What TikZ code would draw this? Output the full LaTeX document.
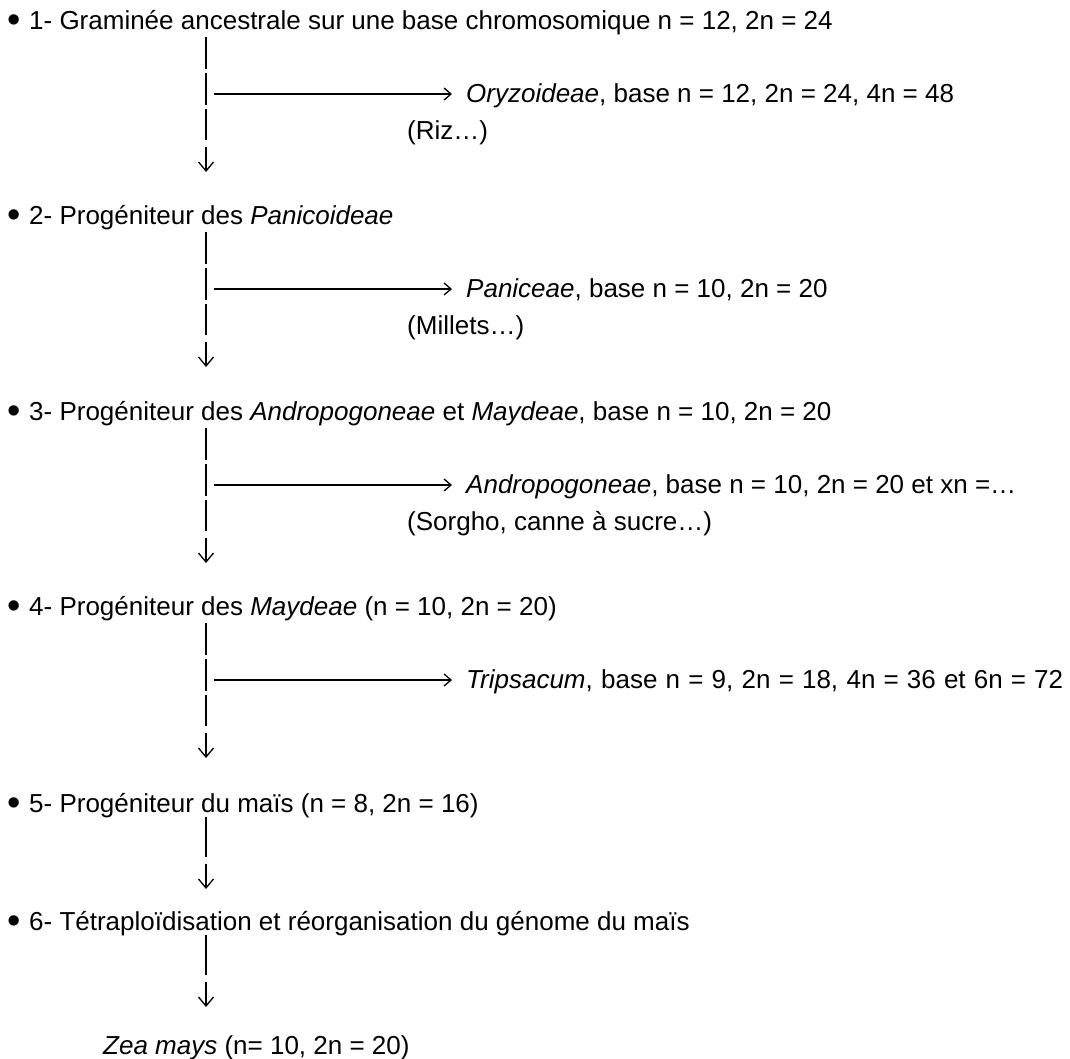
\documentclass[tikz,border=0pt]{standalone}
\usepackage{fontspec}
\setmainfont{Liberation Sans}
\usetikzlibrary{arrows.meta}
\newcommand{\bul}{\makebox[22pt][l]{\raisebox{-3.5pt}{\fontsize{38}{38}\selectfont •}}}
\begin{document}
\begin{tikzpicture}[x=1pt,y=-1pt,
  lbl/.style={anchor=base west, inner sep=0pt, font=\fontsize{26}{30}\selectfont},
  stem/.style={line width=1.3pt, dash pattern=on 32pt off 4pt},
  plain/.style={line width=1.3pt},
  down/.style={line width=1.3pt, -{Straight Barb[length=9pt,width=15pt,line width=1.3pt]}},
  side/.style={line width=1.3pt, shorten >=14pt, -{Straight Barb[length=7pt,width=12pt,line width=1.3pt]}}]
\useasboundingbox[fill=white] (0,0) rectangle (1070,1059);

% main steps (baseline = centre + 9.3)
\node[lbl] (l1) at (7,29.3) {\bul 1- Graminée ancestrale sur une base chromosomique n = 12, 2n = 24};
\node[lbl] (l2) at (7,224.3) {\bul 2- Progéniteur des \textit{Panicoideae}};
\node[lbl] (l3) at (7,420.3) {\bul 3- Progéniteur des \textit{Andropogoneae} et \textit{Maydeae}, base n = 10, 2n = 20};
\node[lbl] (l4) at (7,615.3) {\bul 4- Progéniteur des \textit{Maydeae} (n = 10, 2n = 20)};
\node[lbl] (l5) at (7,812.3) {\bul 5- Progéniteur du maïs (n = 8, 2n = 16)};
\node[lbl] (l6) at (7,930.3) {\bul 6- Tétraploïdisation et réorganisation du génome du maïs};
\node[lbl] (l7) at (103,1054.3) {\textit{Zea mays} (n= 10, 2n = 20)};

% side branches
\node[lbl] (r1) at (466,102.5) {\textit{Oryzoideae}, base n = 12, 2n = 24, 4n = 48};
\node[lbl] (s1) at (407,139.3) {(Riz…)};
\node[lbl] (r2) at (466,297.5) {\textit{Paniceae}, base n = 10, 2n = 20};
\node[lbl] (s2) at (407,334.3) {(Millets…)};
\node[lbl] (r3) at (466,493.5) {\textit{Andropogoneae}, base n = 10, 2n = 20 et xn =…};
\node[lbl] (s3) at (407,530.3) {(Sorgho, canne à sucre…)};
\node[lbl] (r4) at (466,688.5) {\makebox[597pt][s]{\textit{Tripsacum}, base n = 9, 2n = 18, 4n = 36 et 6n = 72}};

% blocks 1-4
\foreach \i/\T in {1/20,2/215,3/411,4/606}{
  \coordinate (a\i) at (206,\T+17);
  \coordinate (b\i) at (206,\T+120);
  \coordinate (c\i) at (206,\T+127);
  \coordinate (d\i) at (206,\T+152);
  \coordinate (h\i) at (214,\T+74);
  \draw[stem] (a\i) -- (b\i);
  \draw[down] (c\i) -- (d\i);
  \draw[side] (h\i) -- (h\i -| r\i.west);
}

% blocks 5-6
\foreach \i/\T in {5/803,6/921}{
  \coordinate (a\i) at (206,\T+14);
  \coordinate (b\i) at (206,\T+54);
  \coordinate (c\i) at (206,\T+61);
  \coordinate (d\i) at (206,\T+86);
  \draw[plain] (a\i) -- (b\i);
  \draw[down] (c\i) -- (d\i);
}
\end{tikzpicture}
\end{document}
